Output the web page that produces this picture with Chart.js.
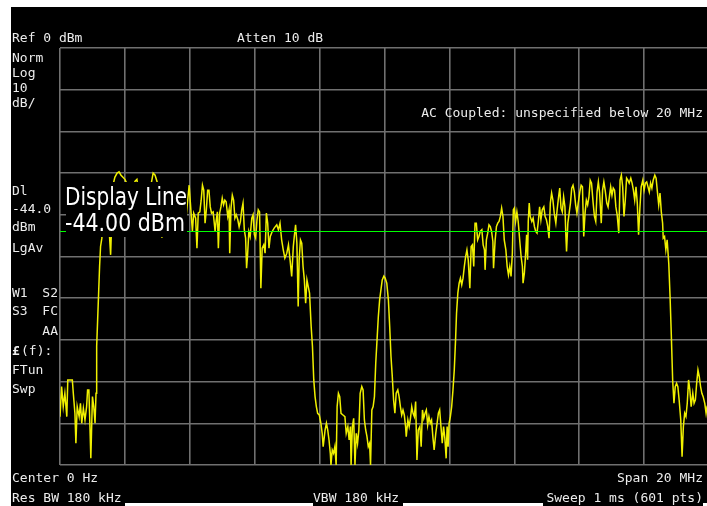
<!DOCTYPE html>
<html>
<head>
<meta charset="utf-8">
<script src="https://cdn.jsdelivr.net/npm/chart.js@4.4.1/dist/chart.umd.min.js"></script>
<style>
  html, body { margin: 0; padding: 0; background: #fff; overflow: hidden; }
  #wrap { width: 707px; height: 506px; overflow: hidden; }
</style>
</head>
<body>
<div id="wrap"><canvas id="sa" width="720" height="506"></canvas></div>
<script>
// trace, frequency offset from center (MHz) and level (dBm)
const traceFreqMHz = [
  -10.00, -9.95, -9.90, -9.85, -9.79, -9.76, -9.62, -9.59, -9.54, -9.51,
  -9.47, -9.41, -9.37, -9.33, -9.28, -9.23, -9.18, -9.15, -9.11, -9.08,
  -9.05, -9.00, -8.96, -8.92, -8.89, -8.87, -8.84, -8.81, -8.78, -8.75,
  -8.71, -8.67, -8.58, -8.49, -8.44, -8.40, -8.37, -8.31, -8.24, -8.18,
  -8.12, -8.06, -8.00, -7.94, -7.87, -7.78, -7.69, -7.63, -7.57, -7.47,
  -7.38, -7.29, -7.20, -7.13, -7.07, -7.01, -6.92, -6.86, -6.73, -6.61,
  -6.49, -6.36, -6.24, -6.12, -6.02, -5.96, -5.92, -5.88, -5.82, -5.78,
  -5.74, -5.69, -5.65, -5.61, -5.57, -5.53, -5.49, -5.45, -5.41, -5.37,
  -5.33, -5.28, -5.22, -5.19, -5.15, -5.12, -5.08, -5.04, -5.00, -4.96,
  -4.92, -4.88, -4.83, -4.79, -4.77, -4.73, -4.69, -4.65, -4.61, -4.57,
  -4.52, -4.48, -4.44, -4.40, -4.36, -4.32, -4.28, -4.25, -4.22, -4.18,
  -4.14, -4.09, -4.05, -4.01, -3.97, -3.93, -3.89, -3.85, -3.81, -3.77,
  -3.72, -3.68, -3.64, -3.60, -3.56, -3.52, -3.46, -3.40, -3.32, -3.27,
  -3.22, -3.17, -3.12, -3.07, -3.01, -2.96, -2.91, -2.86, -2.81, -2.78,
  -2.74, -2.70, -2.66, -2.63, -2.59, -2.55, -2.51, -2.47, -2.43, -2.39,
  -2.35, -2.31, -2.26, -2.22, -2.18, -2.14, -2.10, -2.06, -2.01, -1.96,
  -1.92, -1.89, -1.83, -1.79, -1.75, -1.71, -1.67, -1.65, -1.61, -1.57,
  -1.53, -1.49, -1.46, -1.42, -1.38, -1.34, -1.28, -1.22, -1.18, -1.13,
  -1.09, -1.05, -1.03, -0.99, -0.95, -0.91, -0.87, -0.83, -0.79, -0.75,
  -0.70, -0.66, -0.62, -0.58, -0.54, -0.50, -0.46, -0.43, -0.39, -0.35,
  -0.31, -0.27, -0.23, -0.19, -0.15, -0.11, -0.07, -0.02, 0.02, 0.07,
  0.12, 0.16, 0.20, 0.24, 0.28, 0.32, 0.36, 0.41, 0.45, 0.49,
  0.53, 0.57, 0.61, 0.65, 0.67, 0.72, 0.76, 0.80, 0.84, 0.88,
  0.92, 0.96, 1.00, 1.04, 1.09, 1.13, 1.17, 1.21, 1.25, 1.29,
  1.33, 1.37, 1.41, 1.45, 1.49, 1.53, 1.58, 1.62, 1.66, 1.70,
  1.74, 1.78, 1.82, 1.86, 1.90, 1.93, 1.96, 1.99, 2.03, 2.07,
  2.11, 2.15, 2.19, 2.22, 2.26, 2.30, 2.34, 2.38, 2.42, 2.46,
  2.50, 2.54, 2.58, 2.63, 2.67, 2.71, 2.75, 2.79, 2.83, 2.87,
  2.91, 2.95, 3.00, 3.04, 3.08, 3.10, 3.14, 3.18, 3.22, 3.26,
  3.30, 3.34, 3.36, 3.41, 3.45, 3.49, 3.53, 3.57, 3.61, 3.65,
  3.69, 3.74, 3.78, 3.82, 3.86, 3.90, 3.94, 3.97, 4.00, 4.04,
  4.08, 4.12, 4.17, 4.21, 4.25, 4.27, 4.31, 4.35, 4.38, 4.41,
  4.43, 4.46, 4.49, 4.54, 4.58, 4.62, 4.66, 4.70, 4.74, 4.78,
  4.82, 4.86, 4.91, 4.95, 4.99, 5.03, 5.07, 5.11, 5.15, 5.19,
  5.23, 5.28, 5.32, 5.36, 5.40, 5.44, 5.48, 5.52, 5.56, 5.59,
  5.61, 5.65, 5.69, 5.73, 5.77, 5.81, 5.85, 5.89, 5.93, 5.97,
  6.02, 6.06, 6.10, 6.14, 6.18, 6.22, 6.26, 6.30, 6.34, 6.38,
  6.43, 6.47, 6.51, 6.55, 6.59, 6.63, 6.68, 6.72, 6.76, 6.80,
  6.85, 6.89, 6.93, 6.97, 7.01, 7.05, 7.09, 7.13, 7.17, 7.22,
  7.26, 7.30, 7.34, 7.38, 7.42, 7.46, 7.50, 7.54, 7.59, 7.63,
  7.67, 7.71, 7.75, 7.79, 7.83, 7.87, 7.91, 7.96, 8.00, 8.04,
  8.08, 8.12, 8.16, 8.20, 8.24, 8.28, 8.33, 8.37, 8.41, 8.45,
  8.49, 8.53, 8.57, 8.59, 8.63, 8.67, 8.71, 8.76, 8.80, 8.84,
  8.88, 8.92, 8.96, 9.00, 9.04, 9.08, 9.13, 9.17, 9.21, 9.25,
  9.29, 9.33, 9.37, 9.41, 9.45, 9.50, 9.54, 9.58, 9.62, 9.66,
  9.70, 9.74, 9.78, 9.82, 9.87, 9.91, 9.94, 10.00
];
const traceLevelDbm = [
  -88.4, -81.2, -86.0, -82.8, -88.4, -79.6, -79.6, -82.8, -87.6, -94.8,
  -86.0, -88.4, -85.2, -90.0, -86.4, -89.2, -86.0, -82.0, -82.0, -90.0,
  -98.4, -83.6, -86.0, -90.0, -82.8, -71.6, -65.2, -58.8, -52.4, -47.6,
  -45.6, -40.0, -36.0, -43.0, -49.6, -40.0, -33.0, -31.0, -30.0, -29.7,
  -30.5, -31.0, -31.5, -32.5, -36.0, -39.0, -32.0, -31.5, -35.0, -40.0,
  -37.0, -39.0, -33.0, -30.0, -30.5, -32.0, -38.0, -45.5, -38.0, -36.0,
  -41.0, -38.0, -37.0, -41.0, -32.9, -39.6, -44.0, -39.6, -40.8, -48.0,
  -39.6, -39.3, -36.5, -32.9, -34.1, -42.0, -38.8, -34.1, -34.1, -38.1,
  -39.6, -39.3, -44.0, -41.6, -39.3, -48.0, -39.6, -38.1, -36.0, -37.6,
  -36.5, -36.9, -40.4, -38.8, -49.2, -38.4, -35.3, -36.5, -40.8, -40.0,
  -41.2, -42.9, -41.6, -38.8, -37.2, -43.6, -45.6, -52.8, -49.6, -44.0,
  -45.2, -40.8, -40.0, -44.8, -45.6, -41.2, -38.8, -39.3, -57.6, -48.0,
  -47.2, -49.2, -39.6, -42.0, -48.0, -45.2, -44.0, -43.2, -42.4, -43.6,
  -42.0, -46.0, -48.4, -50.4, -49.2, -47.2, -50.8, -54.8, -47.6, -45.2,
  -42.4, -46.8, -62.0, -50.8, -46.0, -46.8, -52.4, -55.6, -61.2, -55.6,
  -57.2, -58.8, -66.8, -71.6, -79.6, -83.6, -86.0, -87.6, -88.0, -90.0,
  -92.4, -95.6, -91.6, -90.0, -91.6, -94.0, -97.2, -100.0, -96.4, -97.2,
  -95.6, -100.0, -86.0, -82.8, -83.6, -87.6, -88.0, -88.4, -92.4, -90.8,
  -94.0, -90.8, -100.0, -90.8, -88.8, -100.0, -92.4, -94.8, -91.6, -82.8,
  -81.2, -82.0, -89.2, -91.6, -93.2, -95.6, -94.8, -100.0, -86.8, -86.0,
  -83.6, -75.6, -70.0, -64.4, -60.4, -58.0, -55.6, -54.7, -55.2, -56.4,
  -60.4, -66.8, -74.0, -78.8, -84.4, -87.6, -82.8, -82.0, -83.6, -86.0,
  -88.0, -86.8, -88.0, -90.8, -93.2, -89.2, -90.8, -88.8, -86.0, -87.6,
  -88.4, -84.8, -98.8, -91.6, -90.8, -95.6, -86.8, -88.8, -87.6, -86.8,
  -90.4, -88.4, -90.0, -89.2, -93.2, -96.4, -92.4, -90.0, -87.6, -86.8,
  -90.8, -94.8, -90.8, -93.6, -98.4, -90.8, -95.6, -90.0, -88.4, -86.0,
  -82.0, -77.2, -70.0, -63.6, -58.8, -56.4, -55.2, -56.8, -55.2, -52.4,
  -50.0, -48.4, -50.8, -57.6, -47.6, -47.2, -52.4, -42.0, -42.0, -46.0,
  -45.2, -44.0, -43.6, -47.2, -48.4, -53.2, -46.0, -44.4, -42.4, -42.8,
  -44.0, -46.4, -52.8, -46.0, -42.8, -42.0, -41.6, -40.4, -38.4, -40.4,
  -46.0, -48.4, -52.4, -54.4, -52.4, -54.8, -49.2, -38.8, -38.4, -41.6,
  -39.3, -41.6, -46.4, -50.0, -52.4, -56.4, -54.0, -49.2, -44.8, -50.8,
  -41.6, -37.2, -40.4, -41.6, -40.8, -42.8, -44.0, -44.4, -41.6, -38.1,
  -41.2, -38.8, -38.1, -40.4, -41.2, -42.8, -45.6, -37.2, -34.8, -36.5,
  -39.6, -42.0, -38.8, -36.0, -33.6, -38.4, -39.3, -35.7, -38.1, -45.2,
  -48.8, -42.0, -39.6, -37.2, -33.6, -32.9, -34.5, -37.6, -39.6, -37.2,
  -34.5, -32.9, -33.3, -45.2, -39.6, -36.5, -37.6, -35.7, -31.7, -32.4,
  -37.2, -40.4, -41.6, -34.5, -32.1, -34.8, -42.0, -34.1, -32.1, -34.1,
  -37.2, -38.1, -35.7, -33.3, -35.3, -33.6, -34.1, -38.1, -40.0, -44.4,
  -31.7, -30.5, -33.3, -40.4, -36.5, -31.2, -31.7, -32.4, -31.2, -32.4,
  -34.1, -36.5, -33.3, -37.2, -44.8, -38.4, -33.3, -31.7, -34.1, -32.4,
  -32.1, -33.3, -34.5, -32.4, -33.6, -31.7, -30.5, -31.2, -34.5, -37.6,
  -34.8, -39.3, -42.0, -45.6, -45.2, -48.4, -46.0, -51.6, -59.6, -69.2,
  -79.6, -85.2, -81.2, -80.4, -81.2, -84.4, -89.2, -98.0, -90.8, -87.6,
  -88.4, -85.2, -79.6, -82.0, -86.0, -82.8, -85.2, -84.4, -80.4, -77.2,
  -78.8, -81.2, -82.8, -83.6, -85.2, -87.6, -86.0, -85.0
];

const displayLineDbm = -44;
const spanMHz = [-10, 10];
const refRangeDbm = [-100, 0];

// annotation texts around the graticule: [text, x, baseline, align]
const screenTexts = [
  ["Ref 0 dBm", 12, 42, "left"],
  ["Atten 10 dB", 237, 42, "left"],
  ["Norm", 12, 62, "left"],
  ["Log", 12, 77, "left"],
  ["10", 12, 92, "left"],
  ["dB/", 12, 107, "left"],
  ["AC Coupled: unspecified below 20 MHz", 703, 117, "right"],
  ["Dl", 12, 195, "left"],
  ["-44.0", 12, 213, "left"],
  ["dBm", 12, 231, "left"],
  ["LgAv", 12, 252, "left"],
  ["W1", 12, 297, "left"],
  ["S2", 58, 297, "right"],
  ["S3", 12, 315, "left"],
  ["FC", 58, 315, "right"],
  ["AA", 58, 335, "right"],
  ["(f):", 21, 355, "left"],
  ["FTun", 12, 374, "left"],
  ["Swp", 12, 393, "left"],
  ["Center 0 Hz", 12, 482, "left"],
  ["Res BW 180 kHz", 12, 502, "left"],
  ["VBW 180 kHz", 313, 502, "left"],
  ["Span 20 MHz", 703, 482, "right"],
  ["Sweep 1 ms (601 pts)", 703, 502, "right"]
];
const displayLineLabel = ["Display Line", "-44.00 dBm"];

// screen background: white margin, black display, black boxes behind bottom text
const screenBackground = {
  id: "screenBackground",
  beforeDraw(chart) {
    const ctx = chart.ctx;
    ctx.save();
    ctx.fillStyle = "#ffffff";
    ctx.fillRect(0, 0, chart.width, chart.height);
    ctx.fillStyle = "#000000";
    ctx.fillRect(11, 7, chart.width - 11, 496);
    ctx.fillRect(11, 490, 114, 16);
    ctx.fillRect(313, 490, 90, 16);
    ctx.fillRect(543, 490, 160, 16);
    ctx.restore();
  }
};

function fitText(ctx, str, x, baseline, width) {
  const w = ctx.measureText(str).width;
  ctx.save();
  ctx.translate(x, baseline);
  ctx.scale(width / w, 1);
  ctx.fillText(str, 0, 0);
  ctx.restore();
}

const screenAnnotations = {
  id: "screenAnnotations",
  afterDraw(chart) {
    const ctx = chart.ctx;
    ctx.save();
    ctx.fillStyle = "#ececec";
    ctx.font = "13px 'DejaVu Sans Mono'";
    ctx.textBaseline = "alphabetic";
    screenTexts.forEach(([str, x, y, align]) => {
      ctx.textAlign = align;
      ctx.fillText(str, x, y);
    });
    ctx.textAlign = "left";
    ctx.font = "bold 13px 'DejaVu Sans Mono'";
    ctx.fillText("£", 12, 355);

    // display line readout, drawn over the trace
    ctx.fillStyle = "#000000";
    ctx.fillRect(66, 182, 121, 55);
    ctx.fillStyle = "#ffffff";
    ctx.font = "25px 'DejaVu Sans'";
    fitText(ctx, displayLineLabel[0], 65, 205, 122);
    fitText(ctx, displayLineLabel[1], 65, 231, 120);
    ctx.restore();
  }
};

const gridStyle = { color: "#707070", lineWidth: 1.6, drawTicks: false };

new Chart(document.getElementById("sa"), {
  type: "line",
  data: {
    datasets: [
      {
        label: "Display Line",
        data: spanMHz.map((f) => ({ x: f, y: displayLineDbm })),
        borderColor: "#00ff00",
        borderWidth: 1.2,
        pointRadius: 0
      },
      {
        label: "Trace",
        data: traceFreqMHz.map((f, i) => ({ x: f, y: traceLevelDbm[i] })),
        borderColor: "#f0f000",
        borderWidth: 1.5,
        pointRadius: 0,
        tension: 0
      }
    ]
  },
  options: {
    responsive: false,
    devicePixelRatio: 1,
    animation: false,
    layout: { padding: { left: 60, top: 48, right: 11, bottom: 41 } },
    plugins: { legend: { display: false }, tooltip: { enabled: false } },
    scales: {
      x: {
        type: "linear",
        min: spanMHz[0],
        max: spanMHz[1],
        ticks: { display: false, stepSize: 2 },
        grid: gridStyle,
        border: { display: false },
        afterFit: (s) => { s.height = 0; }
      },
      y: {
        min: refRangeDbm[0],
        max: refRangeDbm[1],
        ticks: { display: false, stepSize: 10 },
        grid: gridStyle,
        border: { display: false },
        afterFit: (s) => { s.width = 0; }
      }
    }
  },
  plugins: [screenBackground, screenAnnotations]
});
</script>
</body>
</html>
